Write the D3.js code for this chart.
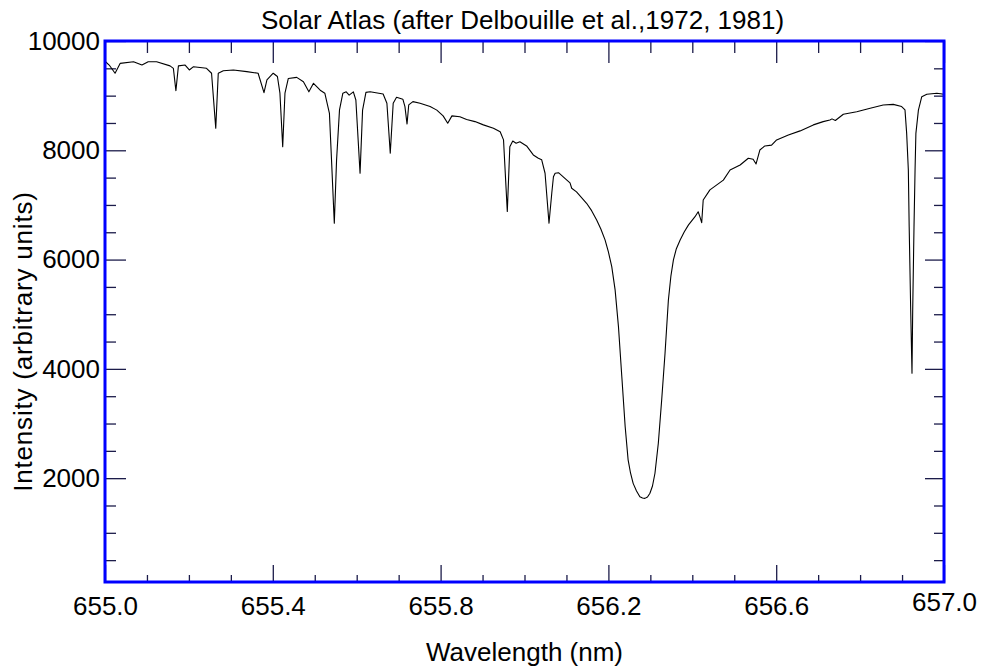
<!DOCTYPE html>
<html>
<head>
<meta charset="utf-8">
<script src="https://cdn.jsdelivr.net/npm/d3@7"></script>
<style>
  html, body { margin: 0; padding: 0; background: #fff; }
  svg { display: block; }
  text { font-family: "Liberation Sans", Arial, Helvetica, sans-serif; fill: #000; }
</style>
</head>
<body>
<svg id="chart" width="981" height="666"></svg>
<script>
// ---- data ----
const wavelength = [
  655.000, 655.010, 655.024, 655.036, 655.068, 655.088, 655.103, 655.123, 655.155, 655.163,
  655.169, 655.175, 655.191, 655.201, 655.211, 655.242, 655.254, 655.264, 655.270, 655.282,
  655.306, 655.338, 655.365, 655.379, 655.386, 655.401, 655.411, 655.417, 655.4236, 655.429,
  655.437, 655.457, 655.473, 655.486, 655.497, 655.513, 655.524, 655.535, 655.540, 655.5466,
  655.552, 655.559, 655.567, 655.575, 655.582, 655.592, 655.598, 655.608, 655.614, 655.622,
  655.632, 655.663, 655.672, 655.680, 655.687, 655.695, 655.710, 655.715, 655.720, 655.724,
  655.734, 655.751, 655.775, 655.791, 655.806, 655.817, 655.827, 655.846, 655.862, 655.882,
  655.902, 655.926, 655.942, 655.950, 655.959, 655.965, 655.972, 655.980, 655.989, 656.005,
  656.021, 656.033, 656.041, 656.049, 656.0584, 656.065, 656.069, 656.073, 656.081, 656.101,
  656.1085, 656.1125, 656.124, 656.148, 656.160, 656.172, 656.182, 656.192, 656.200, 656.208,
  656.216, 656.224, 656.232, 656.240, 656.247, 656.2527, 656.259, 656.267, 656.275, 656.2813,
  656.287, 656.2932, 656.299, 656.3051, 656.311, 656.319, 656.327, 656.335, 656.343, 656.349,
  656.355, 656.362, 656.371, 656.381, 656.391, 656.4065, 656.414, 656.418, 656.4224, 656.426,
  656.442, 656.474, 656.490, 656.514, 656.5335, 656.545, 656.552, 656.561, 656.573, 656.589,
  656.601, 656.629, 656.657, 656.6885, 656.712, 656.728, 656.733, 656.741, 656.760, 656.792,
  656.824, 656.855, 656.879, 656.899, 656.907, 656.911, 656.915, 656.917, 656.9206, 656.9237,
  656.9254, 656.9285, 656.931, 656.933, 656.939, 656.947, 656.959, 656.983, 657.000
];
const intensity = [
  9630, 9560, 9410, 9590, 9620, 9560, 9620, 9620, 9545, 9500,
  9090, 9545, 9560, 9470, 9530, 9500, 9410, 8405, 9410, 9455,
  9470, 9440, 9410, 9055, 9290, 9410, 9350, 9045, 8065, 9045,
  9315, 9335, 9255, 9070, 9225, 9100, 9045, 8675, 7820, 6665,
  7820, 8740, 9045, 9070, 9010, 9070, 8920, 7580, 8735, 9060,
  9070, 9030, 8860, 7945, 8860, 8970, 8935, 8800, 8480, 8830,
  8890, 8860, 8800, 8735, 8630, 8495, 8630, 8615, 8565, 8525,
  8465, 8405, 8340, 8190, 6880, 8065, 8170, 8130, 8155, 8080,
  7915, 7855, 7825, 7580, 6665, 7215, 7515, 7580, 7590, 7455,
  7405, 7305, 7240, 7030, 6895, 6725, 6560, 6360, 6140, 5870,
  5445, 4770, 3855, 2940, 2335, 2095, 1905, 1766, 1660, 1638,
  1630, 1656, 1725, 1857, 2090, 2640, 3430, 4285, 5260, 5700,
  5995, 6200, 6360, 6510, 6635, 6785, 6875, 6785, 6675, 7090,
  7275, 7455, 7640, 7730, 7855, 7835, 7750, 8005, 8080, 8095,
  8190, 8280, 8355, 8465, 8525, 8555, 8575, 8545, 8660, 8705,
  8770, 8830, 8840, 8800, 8740, 8310, 7640, 6600, 5080, 3920,
  5080, 6600, 7640, 8310, 8735, 8980, 9025, 9045, 9025
];
const xDomain = [655.0, 657.0];
const yDomain = [100, 10000];
const xMajorTicks = [655.0, 655.4, 655.8, 656.2, 656.6, 657.0];
const xMinorTicks = [655.1, 655.2, 655.3, 655.5, 655.6, 655.7, 655.9, 656.0, 656.1,
                     656.3, 656.4, 656.5, 656.7, 656.8, 656.9];
const yMajorTicks = [2000, 4000, 6000, 8000, 10000];
const yMinorTicks = [500, 1000, 1500, 2500, 3000, 3500, 4500, 5000, 5500, 6500, 7000, 7500,
                     8500, 9000, 9500];
const titleText = "Solar Atlas (after Delbouille et al.,1972, 1981)";
const xTitle = "Wavelength (nm)";
const yTitle = "Intensity (arbitrary units)";

// ---- layout ----
const L = 105, R = 944, T = 41, B = 582;
const FONT = 26;
const tickColor = "#1c1c4a";

const svg = d3.select("#chart");
const x = d3.scaleLinear().domain(xDomain).range([L, R]);
const y = d3.scaleLinear().domain(yDomain).range([B, T]);

function styleAxis(g) {
  g.select(".domain").remove();
  g.selectAll(".tick line").attr("stroke", tickColor).attr("stroke-width", 1.3);
  g.selectAll(".tick text").attr("font-size", FONT)
    .attr("font-family", "'Liberation Sans', Arial, sans-serif").attr("fill", "#000");
}

// bottom
svg.append("g").attr("transform", `translate(0,${B})`)
  .call(d3.axisBottom(x).tickValues(xMinorTicks).tickSize(-7).tickFormat(""))
  .call(styleAxis);
const bottomMajor = svg.append("g").attr("transform", `translate(0,${B})`)
  .call(d3.axisBottom(x).tickValues(xMajorTicks).tickSize(-17).tickPadding(15).tickFormat(d3.format(".1f")))
  .call(styleAxis);
bottomMajor.selectAll(".tick text").filter(d => d === xDomain[1]).attr("y", 11);

// top
svg.append("g").attr("transform", `translate(0,${T})`)
  .call(d3.axisTop(x).tickValues(xMinorTicks).tickSize(-12).tickFormat(""))
  .call(styleAxis);
svg.append("g").attr("transform", `translate(0,${T})`)
  .call(d3.axisTop(x).tickValues(xMajorTicks).tickSize(-22).tickFormat(""))
  .call(styleAxis);

// left
svg.append("g").attr("transform", `translate(${L},0)`)
  .call(d3.axisLeft(y).tickValues(yMinorTicks).tickSize(-11).tickFormat(""))
  .call(styleAxis);
svg.append("g").attr("transform", `translate(${L},0)`)
  .call(d3.axisLeft(y).tickValues(yMajorTicks).tickSize(-21).tickPadding(5).tickFormat(d3.format("d")))
  .call(styleAxis);

// right
svg.append("g").attr("transform", `translate(${R},0)`)
  .call(d3.axisRight(y).tickValues(yMinorTicks).tickSize(-10).tickFormat(""))
  .call(styleAxis);
svg.append("g").attr("transform", `translate(${R},0)`)
  .call(d3.axisRight(y).tickValues(yMajorTicks).tickSize(-19).tickFormat(""))
  .call(styleAxis);

// spectrum
const pts = wavelength.map((w, i) => [w, intensity[i]]);
const line = d3.line().x(d => x(d[0])).y(d => y(d[1]));
svg.append("path").datum(pts)
  .attr("d", line)
  .attr("fill", "none")
  .attr("stroke", "#000")
  .attr("stroke-width", 1.1)
  .attr("stroke-linejoin", "round");

// frame
svg.append("rect")
  .attr("x", x(xDomain[0])).attr("y", y(yDomain[1]))
  .attr("width", x(xDomain[1]) - x(xDomain[0]))
  .attr("height", y(yDomain[0]) - y(yDomain[1]))
  .attr("fill", "none").attr("stroke", "#0000ff").attr("stroke-width", 3);

// titles
svg.append("text").attr("x", (L + R) / 2 - 2).attr("y", 29)
  .attr("text-anchor", "middle").attr("font-size", FONT).text(titleText);
svg.append("text").attr("x", (L + R) / 2).attr("y", 661)
  .attr("text-anchor", "middle").attr("font-size", FONT).text(xTitle);
svg.append("text")
  .attr("transform", `translate(32,341.5) rotate(-90)`)
  .attr("text-anchor", "middle").attr("font-size", FONT)
  .attr("letter-spacing", "0.8px").text(yTitle);
</script>
</body>
</html>
